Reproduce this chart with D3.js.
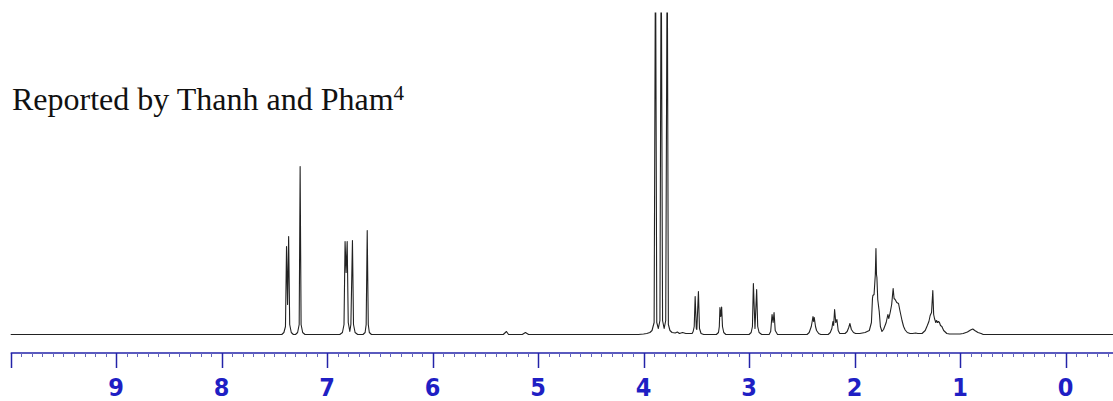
<!DOCTYPE html>
<html>
<head>
<meta charset="utf-8">
<script src="https://cdn.jsdelivr.net/npm/d3@7"></script>
<style>
  html, body { margin: 0; padding: 0; background: #fff; }
  svg { display: block; }
</style>
</head>
<body>
<script>
// Chart size
const SVG_WIDTH = 1113;
const SVG_HEIGHT = 401;

// Title
const TITLE = "Reported by Thanh and Pham";
const TITLE_SUP = "4";

// Axis ticks (ppm)
const MAJOR_TICKS = [10, 9, 8, 7, 6, 5, 4, 3, 2, 1, 0];
const TICK_LABELS = ["", "9", "8", "7", "6", "5", "4", "3", "2", "1", "0"];

// Spectrum trace, [ppm, intensity] (tall peaks run off the top)
const aromaticTrace = [
  [10.0, 0], [7.45, 0],
  [7.43, 0], [7.41, 2], [7.395, 8], [7.385, 88], [7.375, 30], [7.365, 98], [7.355, 10], [7.34, 2], [7.32, 0],
  [7.30, 0], [7.28, 2], [7.265, 10], [7.256, 168], [7.247, 10], [7.232, 2], [7.21, 0],
  [6.88, 0], [6.855, 2], [6.84, 10], [6.83, 93], [6.82, 62], [6.81, 93], [6.80, 12], [6.785, 3],
  [6.775, 10], [6.76, 94], [6.75, 10], [6.735, 2], [6.71, 0],
  [6.66, 0], [6.64, 2], [6.63, 10], [6.62, 104], [6.61, 10], [6.60, 2], [6.58, 0],
  [5.33, 0], [5.30, 3], [5.28, 0], [5.15, 0], [5.12, 2], [5.09, 0], [4.05, 0]
];

const methoxyTrace = [
  [4.00, 0.5], [3.97, 1], [3.94, 2], [3.92, 4], [3.90, 12], [3.887, 400], [3.875, 12],
  [3.86, 6], [3.845, 14], [3.833, 400], [3.82, 14], [3.805, 6], [3.79, 14], [3.776, 400],
  [3.765, 10], [3.75, 4], [3.73, 2], [3.70, 1.5], [3.68, 2.5], [3.66, 1], [3.63, 2], [3.60, 1],
  [3.57, 1], [3.54, 1], [3.53, 3], [3.52, 8], [3.511, 38], [3.50, 6], [3.495, 5], [3.48, 43],
  [3.47, 6], [3.455, 1], [3.43, 0],
  [3.31, 0], [3.29, 2], [3.282, 8], [3.276, 27], [3.268, 18], [3.26, 27.5], [3.252, 8], [3.24, 2], [3.22, 0],
  [3.00, 0], [2.98, 2], [2.968, 8], [2.959, 51], [2.944, 6], [2.928, 45], [2.918, 8], [2.905, 2], [2.88, 0],
  [2.81, 0], [2.795, 3], [2.782, 20], [2.772, 12], [2.763, 22], [2.752, 4], [2.73, 0]
];

const aliphaticTrace = [
  [2.45, 0], [2.43, 2], [2.41, 8], [2.40, 14], [2.394, 18], [2.388, 13], [2.382, 17], [2.37, 8],
  [2.36, 4], [2.34, 1], [2.32, 0],
  [2.25, 0], [2.23, 2], [2.215, 6], [2.205, 13], [2.198, 9], [2.189, 25], [2.178, 12], [2.167, 15],
  [2.155, 4], [2.14, 1], [2.12, 1], [2.09, 1], [2.07, 3], [2.055, 7], [2.044, 11], [2.03, 5],
  [2.01, 2], [1.99, 1], [1.95, 1], [1.90, 2], [1.86, 4], [1.84, 12], [1.83, 36], [1.826, 39],
  [1.815, 40], [1.803, 60], [1.797, 86], [1.792, 60], [1.788, 57], [1.78, 35], [1.766, 23],
  [1.755, 8], [1.74, 3], [1.725, 5], [1.70, 12], [1.684, 20], [1.675, 16], [1.662, 22], [1.648, 30],
  [1.634, 46], [1.625, 36], [1.615, 35], [1.60, 32], [1.583, 31], [1.57, 24], [1.55, 14], [1.535, 8],
  [1.52, 4.5], [1.50, 2], [1.473, 1], [1.45, 1], [1.42, 1.5], [1.40, 1],
  [1.36, 1], [1.33, 4], [1.31, 9], [1.295, 13], [1.283, 19], [1.27, 22], [1.258, 44], [1.25, 20],
  [1.242, 16], [1.23, 12], [1.222, 14], [1.214, 12], [1.205, 13], [1.195, 12], [1.185, 9],
  [1.172, 8], [1.155, 4], [1.125, 1], [1.10, 0.5],
  [1.00, 0.5], [0.97, 1], [0.93, 2.5], [0.90, 4.5], [0.879, 5.5], [0.86, 4], [0.83, 2], [0.80, 1],
  [0.78, 0], [-0.45, 0]
];

// Scales
const xScale = d3.scaleLinear()
  .domain([10, 0])
  .range([10.7, 1065.5]);

const yScale = d3.scaleLinear()
  .domain([0, 322])
  .range([334.5, 12.5]);

const svg = d3.select("body")
  .append("svg")
  .attr("width", SVG_WIDTH)
  .attr("height", SVG_HEIGHT);

// Clip the tall peaks at the top of the plot
svg.append("clipPath")
  .attr("id", "plot-clip")
  .append("rect")
  .attr("x", 0)
  .attr("y", 12.5)
  .attr("width", SVG_WIDTH)
  .attr("height", 330);

// Spectrum line
const spectrum = aromaticTrace.concat(methoxyTrace, aliphaticTrace);

const line = d3.line()
  .x((d) => xScale(d[0]))
  .y((d) => yScale(d[1]));

svg.append("path")
  .datum(spectrum)
  .attr("clip-path", "url(#plot-clip)")
  .attr("fill", "none")
  .attr("stroke", "#222")
  .attr("stroke-width", 1.1)
  .attr("stroke-linejoin", "round")
  .attr("d", line);

// Axis: blue ruler with minor ticks every 0.1 ppm
const AXIS_Y = 353;
const AXIS_COLOR = "#2323a8";
const axisG = svg.append("g");

axisG.append("line")
  .attr("x1", xScale(10))
  .attr("x2", SVG_WIDTH)
  .attr("y1", AXIS_Y)
  .attr("y2", AXIS_Y)
  .attr("stroke", AXIS_COLOR)
  .attr("stroke-width", 1.5);

const minorTicks = d3.range(100, -5, -1).map((v) => v / 10).filter((v) => v % 1 !== 0);

axisG.selectAll(".minor")
  .data(minorTicks)
  .enter()
  .append("line")
  .attr("class", "minor")
  .attr("x1", (d) => Math.round(xScale(d)) + 0.5)
  .attr("x2", (d) => Math.round(xScale(d)) + 0.5)
  .attr("y1", AXIS_Y)
  .attr("y2", AXIS_Y + 4)
  .attr("stroke", "#6464bc")
  .attr("stroke-width", 1);

axisG.selectAll(".major")
  .data(MAJOR_TICKS)
  .enter()
  .append("line")
  .attr("class", "major")
  .attr("x1", (d) => Math.round(xScale(d)) + 0.5)
  .attr("x2", (d) => Math.round(xScale(d)) + 0.5)
  .attr("y1", AXIS_Y)
  .attr("y2", AXIS_Y + 15)
  .attr("stroke", AXIS_COLOR)
  .attr("stroke-width", 1.5);

axisG.selectAll(".label")
  .data(MAJOR_TICKS)
  .enter()
  .append("text")
  .attr("class", "label")
  .attr("x", (d) => xScale(d))
  .attr("y", 396)
  .attr("text-anchor", "middle")
  .style("font-family", "'Liberation Sans Narrow', 'DejaVu Sans Condensed', sans-serif")
  .style("font-size", "25px")
  .style("font-weight", "bold")
  .style("fill", "#1f1fc4")
  .text((d, i) => TICK_LABELS[i]);

// Title
const title = svg.append("text")
  .attr("x", 12)
  .attr("y", 110)
  .style("font-family", "'Liberation Serif', 'Times New Roman', serif")
  .style("font-size", "32px")
  .style("fill", "#111");

title.append("tspan").text(TITLE);
title.append("tspan")
  .attr("dy", -10)
  .style("font-size", "21px")
  .text(TITLE_SUP);
</script>
</body>
</html>
